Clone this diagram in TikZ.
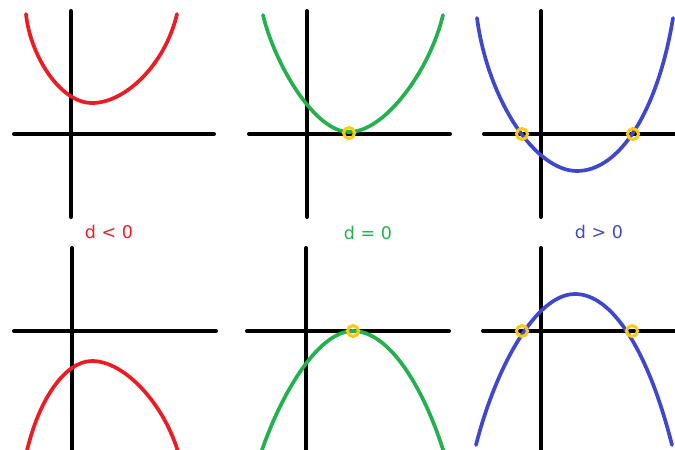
\documentclass[tikz,border=0pt]{standalone}
\usepackage{fontspec}
\setmainfont{DejaVu Sans}
\definecolor{paintred}{RGB}{237,28,36}
\definecolor{paintgreen}{RGB}{34,177,76}
\definecolor{paintblue}{RGB}{63,72,204}
\definecolor{ringyellow}{RGB}{255,201,14}

\begin{document}
\begin{tikzpicture}[
        x=1pt, y=-1pt,
        axis/.style={draw=black, line width=4pt, line cap=round},
        curve/.style={line width=3.7pt, line cap=round},
        root/.style={circle, draw=ringyellow, line width=3pt, minimum size=11pt, inner sep=0pt},
        sign/.style={font=\fontsize{17.5}{20}\selectfont, inner sep=0pt}
    ]
    \useasboundingbox (0,0) rectangle (675,450);

    % --- Axes, top row ---
    \draw[axis] (14,134) -- (214,134);
    \draw[axis] (71,11) -- (71,217);
    \draw[axis] (249,134) -- (450,134);
    \draw[axis] (307,11) -- (307,217);
    \draw[axis] (484,134) -- (675,134);
    \draw[axis] (541,11) -- (541,217);

    % --- Axes, bottom row ---
    \draw[axis] (14,331) -- (216,331);
    \draw[axis] (72,248) -- (72,452);
    \draw[axis] (247,331) -- (449,331);
    \draw[axis] (306,248) -- (306,452);
    \draw[axis] (483,331) -- (675,331);
    \draw[axis] (541,248) -- (541,452);

    % --- Upward parabolas ---
    \draw[curve, paintred] (26,14) .. controls (30,55) and (60,103) .. (92,103)
        .. controls (125,103) and (165,65) .. (177,14);
    \draw[curve, paintgreen] (263,15) .. controls (275,65) and (315,132) .. (349,132)
        .. controls (385,132) and (430,70) .. (443,15);
    \draw[curve, paintblue] (477,18) .. controls (488,100) and (535,171) .. (577,171)
        .. controls (620,171) and (658,110) .. (673,18);

    % --- Downward parabolas ---
    \draw[curve, paintred] (26,455) .. controls (38,400) and (65,361) .. (92,361)
        .. controls (125,361) and (165,405) .. (179,455);
    \draw[curve, paintgreen] (260,456) .. controls (280,395) and (318,331) .. (353,331)
        .. controls (390,331) and (425,390) .. (445,456);
    \draw[curve, paintblue] (476,445) .. controls (495,370) and (535,294) .. (575,294)
        .. controls (612,294) and (648,350) .. (672,445);

    % --- Roots ---
    \node[root] (r0) at (349,133) {};
    \node[root] (r1) at (522,134) {};
    \node[root] (r2) at (633,134) {};
    \node[root] (s0) at (353,331) {};
    \node[root] (s1) at (522,331) {};
    \node[root] (s2) at (632,331) {};

    % --- Labels ---
    \node[sign, text=paintred, anchor=base] (neg) at (109,238) {d < 0};
    \node[sign, text=paintgreen, anchor=base] (zero) at (368,239) {d = 0};
    \node[sign, text=paintblue, anchor=base] (pos) at (599,238) {d > 0};

\end{tikzpicture}
\end{document}
